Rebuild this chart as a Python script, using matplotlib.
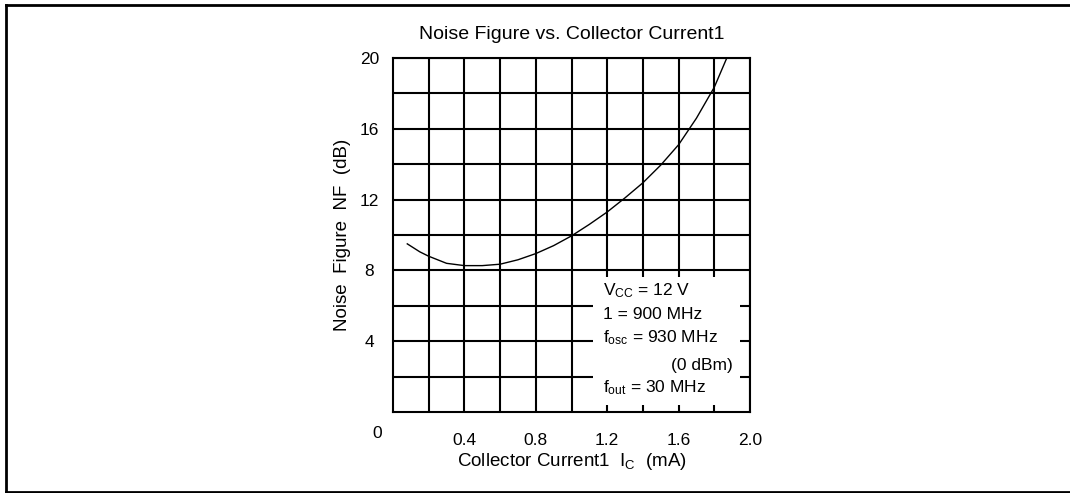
import matplotlib.pyplot as plt
from matplotlib.lines import Line2D
from matplotlib.patches import Rectangle

plt.rcParams['font.family'] = ['Liberation Sans', 'DejaVu Sans']
plt.rcParams['font.size'] = 12.5
plt.rcParams['mathtext.default'] = 'regular'

# --- DATA ---
current_mA = [0.08, 0.15, 0.2, 0.3, 0.4, 0.5, 0.6, 0.7, 0.8, 0.9,
              1.0, 1.1, 1.2, 1.3, 1.4, 1.5, 1.6, 1.7, 1.8, 1.87]
noise_fig_dB = [9.5, 9.05, 8.8, 8.4, 8.27, 8.27, 8.35, 8.6, 8.95, 9.4,
                9.95, 10.6, 11.3, 12.1, 12.95, 13.95, 15.1, 16.6, 18.35, 20.0]

x_ticks = [0.4, 0.8, 1.2, 1.6, 2.0]
x_tick_labels = ['0.4', '0.8', '1.2', '1.6', '2.0']
y_ticks = [4, 8, 12, 16, 20]
y_tick_labels = ['4', '8', '12', '16', '20']

conditions = ['V$_{CC}$ = 12 V', '1 = 900 MHz', 'f$_{osc}$ = 930 MHz', '(0 dBm)', 'f$_{out}$ = 30 MHz']
cond_y = [6.85, 5.5, 4.2, 2.65, 1.4]

# --- FIGURE ---
fig = plt.figure(figsize=(10.7, 4.93), dpi=100)
ax = fig.add_axes([393 / 1070, 1 - 412 / 493, 357 / 1070, 354 / 493])

# outer frame (right side is cut off in the reference)
fl = 6 / 1070
ft = 1 - 4.5 / 493
fb = 1 - 491.5 / 493
for xs, ys in [([fl, fl], [fb, ft]), ([fl, 1.0], [ft, ft]), ([fl, 1.0], [fb, fb])]:
    fig.add_artist(Line2D(xs, ys, color='black', lw=2.0, transform=fig.transFigure))

ax.plot(current_mA, noise_fig_dB, color='black', lw=1.0, zorder=4)

ax.set_xlim(0, 2.0)
ax.set_ylim(0, 20)
ax.set_xticks(x_ticks)
ax.set_xticklabels(x_tick_labels)
ax.set_xticks([0.2, 0.6, 1.0, 1.4, 1.8], minor=True)
ax.set_yticks(y_ticks)
ax.set_yticklabels(y_tick_labels)
ax.set_yticks([2, 6, 10, 14, 18], minor=True)
ax.grid(True, which='both', color='black', lw=1.5)
ax.tick_params(which='both', length=0)
ax.tick_params(axis='x', pad=15)
ax.tick_params(axis='y', pad=17)
for lab in ax.get_yticklabels():
    lab.set_horizontalalignment('center')
for s in ax.spines.values():
    s.set_linewidth(1.5)

# shared "0" label at the lower left corner
ax.annotate('0', xy=(0, 0), xytext=(-16, -21), textcoords='offset pixels',
            ha='center', va='center')

# conditions box, blanking out the grid behind it
ax.add_patch(Rectangle((1.12, 0.38), 0.824, 7.22, facecolor='white',
                       edgecolor='none', zorder=3))
for txt, yy in zip(conditions, cond_y):
    if txt.startswith('('):
        ax.text(1.905, yy, txt, ha='right', va='center', zorder=5)
    else:
        ax.text(1.175, yy, txt, ha='left', va='center', zorder=5)

ax.set_title('Noise Figure vs. Collector Current1', pad=14, fontsize=14)
ax.set_xlabel('Collector Current1  I$_C$  (mA)', labelpad=2.5, fontsize=13.5)
ax.set_ylabel('Noise  Figure  NF  (dB)', labelpad=6, fontsize=13.5)

fig.savefig('out.png', dpi=100)
